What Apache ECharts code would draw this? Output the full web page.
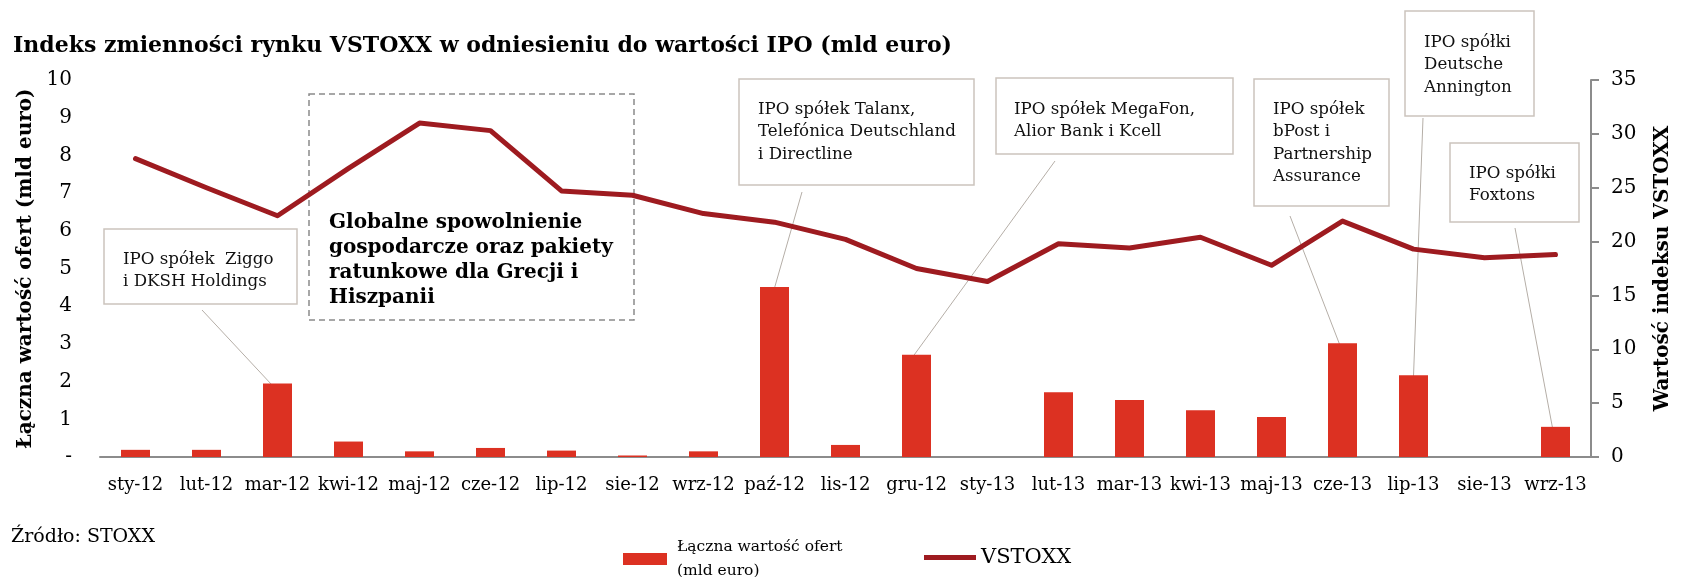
<!DOCTYPE html>
<html>
<head>
<meta charset="utf-8">
<script src="https://cdn.jsdelivr.net/npm/echarts@6/dist/echarts.min.js"></script>
<style>
  html, body { margin: 0; padding: 0; background: #fff; }
  #main { width: 1681px; height: 577px; }
</style>
</head>
<body>
<div id="main"></div>
<script>
// miesiące (oś X)
var months = ['sty-12', 'lut-12', 'mar-12', 'kwi-12', 'maj-12', 'cze-12', 'lip-12', 'sie-12', 'wrz-12', 'paź-12', 'lis-12',
  'gru-12', 'sty-13', 'lut-13', 'mar-13', 'kwi-13', 'maj-13', 'cze-13', 'lip-13', 'sie-13', 'wrz-13'];
// łączna wartość ofert IPO (mld euro) - lewa oś
var ipoValues = [0.19, 0.19, 1.95, 0.41, 0.15, 0.24, 0.17, 0.04, 0.15, 4.51, 0.32,
  2.71, 0, 1.72, 1.51, 1.24, 1.06, 3.02, 2.17, 0, 0.80];
// wartość indeksu VSTOXX - prawa oś
var vstoxx = [27.7, 25.0, 22.4, 26.8, 31.0, 30.3, 24.7, 24.3, 22.6, 21.8, 20.2,
  17.5, 16.3, 19.8, 19.4, 20.4, 17.8, 21.9, 19.3, 18.5, 18.8];

var leftMax = 10, leftStep = 1;
var rightMax = 35, rightStep = 5;

// opisy IPO i miesiąc, którego dotyczą
var noteTexts = [
  'IPO spółek  Ziggo\ni DKSH Holdings',
  'IPO spółek Talanx,\nTelefónica Deutschland\ni Directline',
  'IPO spółek MegaFon,\nAlior Bank i Kcell',
  'IPO spółek\nbPost i\nPartnership\nAssurance',
  'IPO spółki\nDeutsche\nAnnington',
  'IPO spółki\nFoxtons'
];
var noteMonths = [2, 9, 11, 17, 18, 20];
var boxNote = 'Globalne spowolnienie\ngospodarcze oraz pakiety\nratunkowe dla Grecji i\nHiszpanii';

var serif = '"DejaVu Serif", Georgia, serif';
var axisGrey = '#8c8c8c';

var myChart = echarts.init(document.getElementById('main'));
var option = {
  animation: false,
  title: {
    text: 'Indeks zmienności rynku VSTOXX w odniesieniu do wartości IPO (mld euro)',
    left: 8,
    top: 30,
    textStyle: { fontFamily: serif, fontWeight: 'bold', fontSize: 22, color: '#000' }
  },
  grid: { left: 100, right: 81, top: 80, bottom: 120 },
  legend: [
    {
      data: ['Łączna wartość ofert (mld euro)'],
      left: 618, top: 530,
      icon: 'rect', itemWidth: 44, itemHeight: 12,
      formatter: function () { return 'Łączna wartość ofert\n(mld euro)'; },
      textStyle: { fontFamily: serif, fontSize: 15.5, color: '#000', lineHeight: 24, padding: [0, 0, 0, 5] }
    },
    {
      data: ['VSTOXX'],
      left: 919, top: 542,
      icon: 'rect', itemWidth: 52, itemHeight: 5,
      textStyle: { fontFamily: serif, fontSize: 21, color: '#000' }
    }
  ],
  xAxis: {
    type: 'category',
    data: months,
    axisLine: { lineStyle: { color: axisGrey, width: 2 } },
    axisTick: { length: 8, lineStyle: { color: axisGrey, width: 2 } },
    axisLabel: { margin: 19, fontFamily: serif, fontSize: 18, color: '#000', interval: 0 }
  },
  yAxis: [
    {
      type: 'value', min: 0, max: leftMax, interval: leftStep,
      name: 'Łączna wartość ofert (mld euro)',
      nameLocation: 'middle', nameRotate: 90, nameGap: 64,
      nameTextStyle: { fontFamily: serif, fontWeight: 'bold', fontSize: 20, color: '#000' },
      axisLine: { show: false }, axisTick: { show: false }, splitLine: { show: false },
      axisLabel: {
        margin: 28, fontFamily: serif, fontSize: 20, color: '#000',
        formatter: function (v) { return v === 0 ? '-' : v; }
      }
    },
    {
      type: 'value', min: 0, max: rightMax, interval: rightStep,
      name: 'Wartość indeksu VSTOXX',
      nameLocation: 'middle', nameRotate: 90, nameGap: 62,
      nameTextStyle: { fontFamily: serif, fontWeight: 'bold', fontSize: 20, color: '#000' },
      axisLine: { show: true, lineStyle: { color: axisGrey, width: 2 } },
      axisTick: { show: true, length: 8, lineStyle: { color: axisGrey, width: 2 } },
      splitLine: { show: false },
      axisLabel: { margin: 20, fontFamily: serif, fontSize: 20, color: '#000' }
    }
  ],
  series: [
    {
      name: 'Łączna wartość ofert (mld euro)',
      type: 'bar',
      yAxisIndex: 0,
      data: ipoValues,
      barWidth: 29,
      itemStyle: { color: '#dc3122' }
    },
    {
      name: 'VSTOXX',
      type: 'line',
      yAxisIndex: 1,
      data: vstoxx,
      symbol: 'none',
      lineStyle: { color: '#9e1b20', width: 5, cap: 'round', join: 'round' },
      itemStyle: { color: '#9e1b20' },
      z: 3
    }
  ]
};
myChart.setOption(option);

// ramki opisów (pozycje w pikselach) i punkt startu linii odniesienia
var boxes = [
  [104, 229, 193, 75], [739, 79, 235, 106], [996, 78, 237, 76],
  [1254, 79, 135, 127], [1405, 11, 129, 105], [1450, 143, 129, 79]
];
var textPos = [[123, 248], [758, 98], [1014, 98], [1273, 98], [1424, 31], [1469, 162]];
var leaderFrom = [[202, 310], [802, 192], [1055, 161], [1290, 216], [1423, 118], [1515, 228]];
var leaderDx = [-6, 0, -3, -3, 0, -3];

var graphic = [];
for (var i = 0; i < noteTexts.length; i++) {
  var idx = noteMonths[i];
  var barTop = myChart.convertToPixel({ seriesIndex: 0 }, [idx, ipoValues[idx]]);
  graphic.push({
    type: 'line', z: 1,
    shape: { x1: leaderFrom[i][0], y1: leaderFrom[i][1], x2: barTop[0] + leaderDx[i], y2: barTop[1] + 1 },
    style: { stroke: '#b5aea7', lineWidth: 1 }
  });
  graphic.push({
    type: 'rect', z: 1,
    shape: { x: boxes[i][0], y: boxes[i][1], width: boxes[i][2], height: boxes[i][3] },
    style: { fill: '#fff', stroke: '#cbc4bd', lineWidth: 1.5 }
  });
  graphic.push({
    type: 'text', z: 2,
    x: textPos[i][0], y: textPos[i][1],
    style: { text: noteTexts[i], font: '16.7px ' + serif, fill: '#111', lineHeight: 22.5 }
  });
}
// przerywana ramka z komentarzem
graphic.push({
  type: 'rect', z: 1,
  shape: { x: 309, y: 94, width: 325, height: 226 },
  style: { fill: null, stroke: '#8a8a8a', lineWidth: 1.5, lineDash: [6, 4] }
});
graphic.push({
  type: 'text', z: 2,
  x: 329, y: 210,
  style: { text: boxNote, font: 'bold 20px ' + serif, fill: '#000', lineHeight: 25 }
});
graphic.push({
  type: 'text',
  x: 11, y: 528,
  style: { text: 'Źródło: STOXX', font: '19px ' + serif, fill: '#000' }
});

myChart.setOption({ graphic: graphic });
</script>
</body>
</html>
